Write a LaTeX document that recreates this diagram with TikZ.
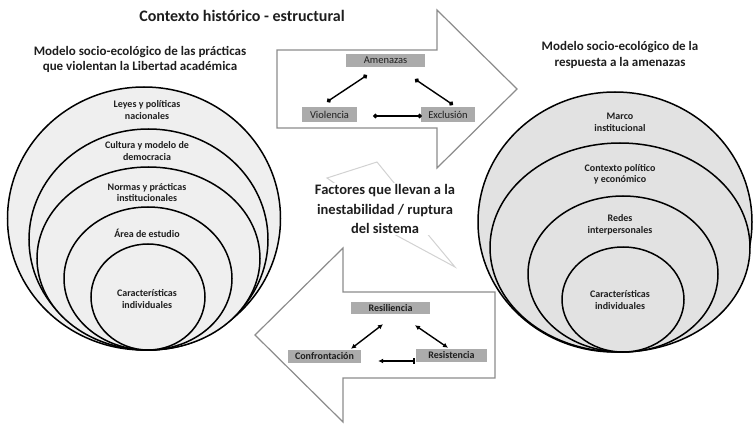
\documentclass[tikz,border=0pt]{standalone}
\usepackage{fontspec}
\setmainfont{Carlito}
\usetikzlibrary{arrows.meta,calc}
\definecolor{boxgray}{HTML}{ABABAB}
\definecolor{arrowgray}{HTML}{8C8C8C}
\definecolor{lfill}{HTML}{EFEFEF}
\definecolor{rfill}{HTML}{E2E2E2}
\definecolor{boltgray}{HTML}{D2D2D2}
\definecolor{ink}{HTML}{1E1E1E}
\begin{document}
\begin{tikzpicture}[x=1pt,y=-1pt,
  ring/.style={draw=black, line width=1.5pt},
  lbl/.style={font=\bfseries\fontsize{10}{11.5}\selectfont, align=center, text=ink, inner sep=0pt},
  head/.style={font=\bfseries\fontsize{13}{15.5}\selectfont, align=center, text=ink, inner sep=0pt},
  tbox/.style={fill=boxgray, inner sep=0pt, text=ink, font=\fontsize{10.5}{11}\selectfont},
  bbox/.style={fill=boxgray, inner sep=0pt, text=ink, font=\bfseries\fontsize{10}{11}\selectfont},
  bigarrow/.style={draw=arrowgray, line width=1.2pt, fill=white, line join=miter},
  dotlink/.style={draw=black, line width=1.4pt, {Circle[length=4.5pt]}-{Circle[length=4.5pt]}},
  tiplink/.style={draw=black, line width=1.4pt, {Latex[length=5pt,width=5pt]}-{Latex[length=5pt,width=5pt]}},
  barlink/.style={draw=black, line width=1.4pt, {Latex[length=5pt,width=5pt]}-{Bar[width=6pt]}}
]
\useasboundingbox (0,0) rectangle (753,425);

% ---------- left nested circles ----------
\draw[ring, fill=lfill] (144,218.5) ellipse [x radius=136.5, y radius=131.5];
\draw[ring, fill=lfill] (148.5,239.5) ellipse [x radius=119.5, y radius=110.5];
\draw[ring, fill=lfill] (148.5,258.5) ellipse [x radius=111.5, y radius=91.5];
\draw[ring, fill=lfill] (148,278.5) ellipse [x radius=84, y radius=71.5];
\draw[ring, fill=lfill] (148,297) ellipse [x radius=57, y radius=53];

\node[lbl] (l1) at (147,110) {Leyes y políticas\\nacionales};
\node[lbl] (l2) at (147,151) {Cultura y modelo de\\democracia};
\node[lbl] (l3) at (147,192.5) {Normas y prácticas\\institucionales};
\node[lbl] (l4) at (147,233) {Área de estudio};
\node[lbl] (l5) at (147,299) {Características\\individuales};

% ---------- right nested circles ----------
\draw[ring, fill=rfill] (615,222) ellipse [x radius=137, y radius=130];
\draw[ring, fill=rfill] (620,247.5) ellipse [x radius=130, y radius=104.5];
\draw[ring, fill=rfill] (623,274) ellipse [x radius=95, y radius=78];
\draw[ring, fill=rfill] (623,299.5) ellipse [x radius=61, y radius=52.5];

\node[lbl] (r1) at (620,122.5) {Marco\\institucional};
\node[lbl] (r2) at (620,174.5) {Contexto político\\y económico};
\node[lbl] (r3) at (620,225) {Redes\\interpersonales};
\node[lbl] (r4) at (620,300) {Características\\individuales};

% ---------- headings ----------
\node[font=\bfseries\fontsize{16}{18}\selectfont, text=ink, inner sep=0pt] (title) at (242,16) {Contexto histórico - estructural};
\node[head] (lhead) at (140,59.5) {Modelo socio-ecológico de las prácticas\\que violentan la Libertad académica};
\node[head] (rhead) at (620,55) {Modelo socio-ecológico de la\\respuesta a la amenazas};

% ---------- top big arrow ----------
\draw[bigarrow] (277,50) -- (437,50) -- (437,10) -- (517,89) -- (437,168) -- (437,128) -- (277,128) -- cycle;

\node[tbox, minimum width=79pt, minimum height=13pt] (am) at (385.5,60.5) {Amenazas};
\node[tbox, minimum width=55pt, minimum height=15pt] (vi) at (329.5,114.5) {Violencia};
\node[tbox, minimum width=54pt, minimum height=15pt] (ex) at (448,114.5) {Exclusión};

\draw[dotlink] ([xshift=-18.5pt,yshift=-8pt]am.south) -- ([xshift=-2.5pt,yshift=5pt]vi.north);
\draw[dotlink] ([xshift=29.5pt,yshift=-12pt]am.south) -- ([xshift=5pt,yshift=2pt]ex.north);
\draw[dotlink] ([xshift=16pt,yshift=-1.5pt]vi.east) -- ([xshift=1pt,yshift=-1.5pt]ex.west);

% ---------- lightning bolt ----------
\draw[draw=boltgray, line width=1pt, fill=white, line join=miter] (327,178) -- (377,162) -- (408,200) -- (400,203) -- (425,231) -- (455,267) -- (392,233) -- (400,229) -- (360,210) -- (367,206) -- cycle;
\node[font=\bfseries\fontsize{14.5}{19.5}\selectfont, align=center, text=ink, fill=white, inner sep=1pt] (fact) at (385,209) {Factores que llevan a la\\inestabilidad / ruptura\\del sistema};

% ---------- bottom big arrow ----------
\draw[bigarrow] (495,292) -- (343,292) -- (343,248) -- (255,335) -- (343,422) -- (343,378) -- (495,378) -- cycle;

\node[bbox, minimum width=79pt, minimum height=12pt] (rsl) at (390.5,308) {Resiliencia};
\node[bbox, minimum width=73pt, minimum height=13pt] (cf) at (324.5,356.5) {Confrontación};
\node[bbox, minimum width=71pt, minimum height=13pt] (rst) at (451.5,355.5) {Resistencia};

\draw[tiplink] ([xshift=-7.5pt,yshift=-10pt]rsl.south) -- ([xshift=26.5pt,yshift=1pt]cf.north);
\draw[tiplink] ([xshift=24.5pt,yshift=-11pt]rsl.south) -- ([xshift=-3.5pt,yshift=1pt]rst.north);
\draw[barlink] ([xshift=17pt,yshift=-4.5pt]cf.east) -- ([xshift=-1pt,yshift=-5.5pt]rst.west);
\end{tikzpicture}
\end{document}
